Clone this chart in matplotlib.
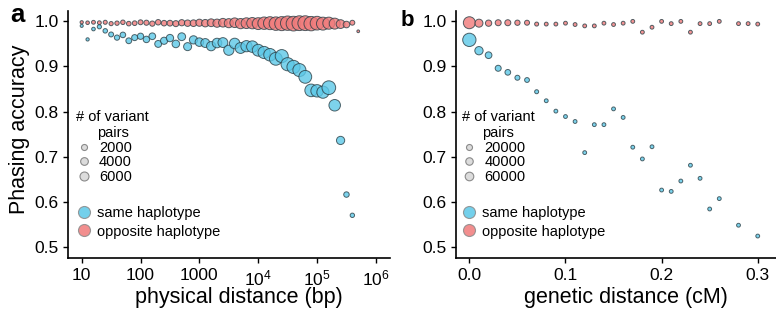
import numpy as np
import matplotlib
matplotlib.use("Agg")
import matplotlib.pyplot as plt
from matplotlib.lines import Line2D

plt.rcParams["font.family"] = ["Liberation Sans", "DejaVu Sans"]
plt.rcParams["mathtext.fontset"] = "custom"
plt.rcParams["mathtext.rm"] = "Liberation Sans"
plt.rcParams["mathtext.it"] = "Liberation Sans:italic"

# ---- panel a: physical distance (log10 bp) ----
a_same_log = [1.0, 1.1, 1.2, 1.3, 1.4, 1.5, 1.6, 1.7, 1.8, 1.9,
              2.0, 2.1, 2.2, 2.3, 2.4, 2.5, 2.6, 2.7, 2.8, 2.9,
              3.0, 3.1, 3.2, 3.3, 3.4, 3.5, 3.6, 3.7, 3.8, 3.9,
              4.0, 4.1, 4.2, 4.3, 4.4, 4.5, 4.6, 4.7, 4.8, 4.9,
              5.0, 5.1, 5.2, 5.3, 5.4, 5.5, 5.6]
a_same_acc = [0.990, 0.960, 0.983, 0.988, 0.979, 0.971, 0.964, 0.970, 0.957, 0.964,
              0.967, 0.960, 0.967, 0.950, 0.957, 0.963, 0.950, 0.966, 0.944, 0.959,
              0.954, 0.952, 0.945, 0.952, 0.953, 0.936, 0.951, 0.941, 0.945, 0.944,
              0.936, 0.931, 0.926, 0.917, 0.923, 0.905, 0.899, 0.892, 0.877, 0.847,
              0.846, 0.843, 0.853, 0.814, 0.736, 0.616, 0.570]
a_same_n = [140, 200, 320, 580, 770, 1060, 1310, 1590, 1790, 2000,
            2230, 2460, 2710, 2970, 3240, 3530, 3820, 4130, 4450, 4780,
            5300, 5850, 6420, 7020, 7640, 8300, 8970, 9680, 10420, 11180,
            11960, 12780, 13620, 14490, 15080, 15380, 15380, 15080, 14490, 13900,
            13340, 12780, 16930, 11180, 4780, 1490, 700]

a_opp_log = [1.0, 1.1, 1.2, 1.3, 1.4, 1.5, 1.6, 1.7, 1.8, 1.9,
             2.0, 2.1, 2.2, 2.3, 2.4, 2.5, 2.6, 2.7, 2.8, 2.9,
             3.0, 3.1, 3.2, 3.3, 3.4, 3.5, 3.6, 3.7, 3.8, 3.9,
             4.0, 4.1, 4.2, 4.3, 4.4, 4.5, 4.6, 4.7, 4.8, 4.9,
             5.0, 5.1, 5.2, 5.3, 5.4, 5.5, 5.6, 5.7]
a_opp_acc = [0.998, 0.997, 0.998, 0.997, 0.998, 0.995, 0.996, 0.998, 0.995, 0.996,
             0.998, 0.997, 0.995, 0.998, 0.996, 0.996, 0.995, 0.997, 0.996, 0.996,
             0.997, 0.996, 0.997, 0.996, 0.997, 0.996, 0.997, 0.995, 0.996, 0.996,
             0.995, 0.996, 0.996, 0.995, 0.995, 0.996, 0.995, 0.996, 0.996, 0.995,
             0.996, 0.995, 0.996, 0.995, 0.994, 0.993, 0.997, 0.978]
a_opp_n = [200, 320, 420, 420, 520, 580, 700, 770, 830, 900,
           1060, 1220, 1310, 1490, 1590, 1790, 2000, 2230, 2460, 2710,
           3240, 3670, 4130, 4780, 5480, 6220, 7220, 8300, 9440, 10670,
           11960, 13340, 14780, 16300, 17890, 18900, 19950, 20250, 20250, 18900,
           16930, 14780, 12500, 9930, 5660, 2590, 1060, 70]

a_xticks = [10, 100, 1000, 1e4, 1e5, 1e6]
a_xlabels = ["10", "100", "1000", r"$10^4$", r"$10^5$", r"$10^6$"]
a_size_breaks = [2000, 4000, 6000]

# ---- panel b: genetic distance (cM) ----
b_same_cm = [0.00, 0.01, 0.02, 0.03, 0.04, 0.05, 0.06, 0.07, 0.08, 0.09,
             0.10, 0.11, 0.12, 0.13, 0.14, 0.15, 0.16, 0.17, 0.18, 0.19,
             0.20, 0.21, 0.22, 0.23, 0.24, 0.25, 0.26, 0.28, 0.30]
b_same_acc = [0.959, 0.935, 0.925, 0.896, 0.887, 0.875, 0.870, 0.844, 0.824, 0.801,
              0.789, 0.778, 0.709, 0.771, 0.771, 0.806, 0.787, 0.721, 0.695, 0.722,
              0.626, 0.623, 0.646, 0.681, 0.652, 0.584, 0.607, 0.548, 0.524]
b_same_n = [187600, 54400, 28600, 19940, 16700, 10240, 8690, 3750, 3000, 3000,
            3000, 3000, 3000, 3000, 3000, 3000, 3000, 3000, 3000, 3000,
            3000, 3000, 3000, 3000, 3000, 3000, 3000, 3000, 3000]

b_opp_cm = [0.00, 0.01, 0.02, 0.03, 0.04, 0.05, 0.06, 0.07, 0.08, 0.09,
            0.10, 0.11, 0.12, 0.13, 0.14, 0.15, 0.16, 0.17, 0.18, 0.19,
            0.20, 0.21, 0.22, 0.23, 0.24, 0.25, 0.26, 0.28, 0.29, 0.30]
b_opp_acc = [0.997, 0.996, 0.996, 0.997, 0.997, 0.997, 0.997, 0.994, 0.994, 0.994,
             0.996, 0.993, 0.990, 0.990, 0.996, 0.993, 0.996, 1.000, 0.976, 0.987,
             1.000, 0.995, 1.000, 0.976, 0.995, 0.995, 1.000, 0.995, 0.995, 0.994]
b_opp_n = [145000, 48900, 23500, 19940, 19940, 12800, 10240, 3750, 3000, 3000,
           3000, 3000, 3000, 3000, 3000, 3000, 3000, 3000, 3000, 3000,
           3000, 3000, 3000, 3000, 3000, 3000, 3000, 3000, 3000, 3000]

b_xticks = [0.0, 0.1, 0.2, 0.3]
b_xlabels = ["0.0", "0.1", "0.2", "0.3"]
b_size_breaks = [20000, 40000, 60000]

yticks = [0.5, 0.6, 0.7, 0.8, 0.9, 1.0]

BLUE = "#5cc8e8"
RED = "#f07a7a"
EDGE = "#2b3f46"
PX = 0.72  # points per pixel at dpi 100


def diam_a(n):
    return 2.0 + 0.09 * np.sqrt(np.asarray(n, float))


def diam_b(n):
    return 2.47 + 0.025 * np.sqrt(np.asarray(n, float))


def draw_panel(ax, x_same, y_same, n_same, x_opp, y_opp, n_opp, diam, breaks, leg_x):
    s_opp = (diam(n_opp) * PX) ** 2
    s_same = (diam(n_same) * PX) ** 2
    ax.scatter(x_opp, y_opp, s=s_opp, c=RED, alpha=0.8, edgecolors=EDGE,
               linewidths=0.7, zorder=3)
    ax.scatter(x_same, y_same, s=s_same, c=BLUE, alpha=0.8, edgecolors=EDGE,
               linewidths=0.7, zorder=3)

    ax.set_ylim(0.476, 1.023)
    ax.set_yticks(yticks)
    ax.set_yticklabels(["%.1f" % v for v in yticks])
    for side in ("top", "right"):
        ax.spines[side].set_visible(False)
    for side in ("left", "bottom"):
        ax.spines[side].set_linewidth(1.2)
    ax.tick_params(labelsize=12.5, length=3.5, width=1.0, pad=3, colors="black")
    ax.tick_params(axis="x", pad=4)

    size_handles = [Line2D([], [], marker="o", linestyle="", markersize=diam(b) * PX,
                           markerfacecolor="#dcdcdc", markeredgecolor="#8a8a8a",
                           markeredgewidth=0.8) for b in breaks]
    leg1 = ax.legend(size_handles, [str(b) for b in breaks], title="# of variant\npairs",
                     loc="upper left", bbox_to_anchor=(leg_x, 0.60), frameon=False,
                     fontsize=10.5, title_fontsize=10.5, handlelength=1.0,
                     handletextpad=0.55, labelspacing=0.05, borderpad=0,
                     borderaxespad=0, alignment="left")
    leg1.get_title().set_multialignment("center")
    ax.add_artist(leg1)
    col_handles = [Line2D([], [], marker="o", linestyle="", markersize=12 * PX,
                          markerfacecolor=c, markeredgecolor="#8a8a8a",
                          markeredgewidth=0.8, alpha=0.85) for c in (BLUE, RED)]
    ax.legend(col_handles, ["same haplotype", "opposite haplotype"],
              loc="upper left", bbox_to_anchor=(leg_x, 0.209), frameon=False,
              fontsize=10.5, handlelength=1.0, handletextpad=0.4,
              labelspacing=0.3, borderpad=0, borderaxespad=0)


fig = plt.figure(figsize=(7.76, 3.2), dpi=100)
ax_a = fig.add_axes([68 / 776, 62.3 / 320, 322 / 776, 246.7 / 320])
ax_b = fig.add_axes([455.7 / 776, 62.3 / 320, 320.3 / 776, 246.7 / 320])

draw_panel(ax_a, 10 ** np.array(a_same_log), a_same_acc, a_same_n,
           10 ** np.array(a_opp_log), a_opp_acc, a_opp_n, diam_a, a_size_breaks, 0.026)
ax_a.set_xscale("log")
ax_a.set_xlim(10 ** 0.767, 10 ** 6.24)
ax_a.set_xticks(a_xticks)
ax_a.set_xticklabels(a_xlabels)
ax_a.minorticks_off()
ax_a.set_xlabel("physical distance (bp)", fontsize=15.5)
ax_a.xaxis.set_label_coords(0.531, -0.12)
ax_a.set_ylabel("Phasing accuracy", fontsize=15.5)
ax_a.yaxis.set_label_coords(-0.119, 0.522)

draw_panel(ax_b, b_same_cm, b_same_acc, b_same_n,
           b_opp_cm, b_opp_acc, b_opp_n, diam_b, b_size_breaks, 0.019)
ax_b.set_xlim(-0.0142, 0.319)
ax_b.set_xticks(b_xticks)
ax_b.set_xticklabels(b_xlabels)
ax_b.set_xlabel("genetic distance (cM)", fontsize=15.5)
ax_b.xaxis.set_label_coords(0.531, -0.12)

fig.text(10 / 776, 1 - 22.5 / 320, "a", fontsize=18.5, fontweight="bold", va="baseline")
fig.text(401 / 776, 1 - 26 / 320, "b", fontsize=16, fontweight="bold", va="baseline")

fig.savefig("out.png", dpi=100)
